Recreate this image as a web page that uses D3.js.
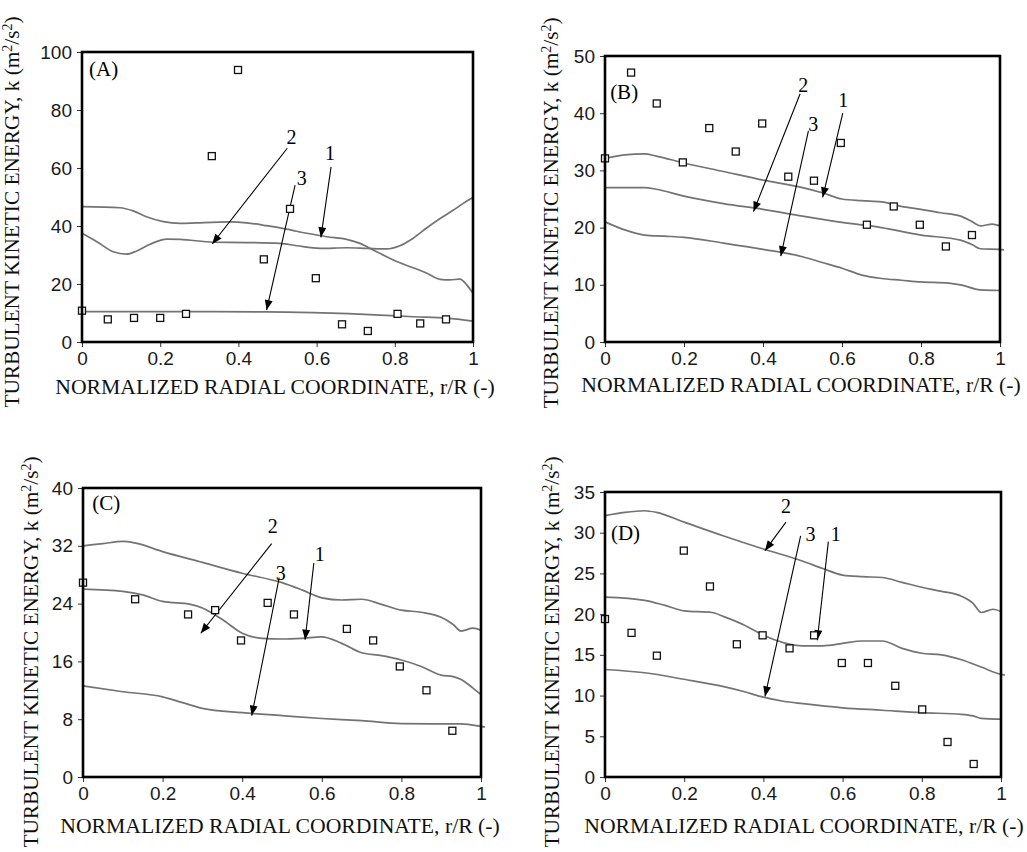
<!DOCTYPE html>
<html>
<head>
<meta charset="utf-8">
<script src="https://cdn.jsdelivr.net/npm/d3@7/dist/d3.min.js"></script>
<style>
  html, body { margin: 0; padding: 0; background: #fff; }
  svg { display: block; }
</style>
</head>
<body>
<svg id="chart" width="1027" height="852"></svg>
<script>
// Radial ticks shared by every panel
const radialTicks = [0, 0.2, 0.4, 0.6, 0.8, 1];

// ---- Panel (A) ----
const kTicksA = [0, 20, 40, 60, 80, 100];
const rA = [0, 0.066, 0.133, 0.2, 0.266, 0.332, 0.399, 0.465, 0.532, 0.598, 0.665, 0.731, 0.807, 0.865, 0.931];
const measA = [10.8, 7.8, 8.3, 8.3, 9.7, 64.1, 93.8, 28.5, 45.9, 22.0, 6.1, 3.8, 9.7, 6.4, 7.8];
const curveA1 = [[0,46.7],[0.097,46.3],[0.131,45.2],[0.165,43.2],[0.208,41.5],[0.251,40.9],[0.293,41.1],[0.379,41.4],[0.421,41.1],[0.472,40.1],[0.523,38.9],[0.575,37.5],[0.626,36.3],[0.677,35.4],[0.711,34.0],[0.745,31.7],[0.779,29.4],[0.813,27.3],[0.847,25.6],[0.882,23.7],[0.916,21.6],[0.941,21.4],[0.967,21.7],[0.984,19.7],[1.0,16.8]];
const curveA2 = [[0,37.5],[0.038,34.6],[0.080,31.1],[0.114,30.3],[0.140,31.4],[0.174,33.7],[0.217,35.5],[0.251,35.4],[0.336,34.4],[0.421,34.3],[0.506,34.0],[0.549,33.2],[0.609,32.3],[0.677,32.5],[0.728,32.3],[0.779,32.1],[0.813,33.2],[0.847,35.8],[0.882,39.4],[0.916,42.6],[0.950,45.5],[0.975,47.8],[1.0,49.8]];
const curveA3 = [[0,10.5],[0.251,10.5],[0.472,10.4],[0.592,10.1],[0.762,9.3],[0.847,8.7],[0.933,8.2],[1.0,7.2]];
// callouts: [text, label r, label k, tail r, tail k, head r, head k]
const arrowsA = [["2",0.536,70.8,0.525,66.8,0.333,33.8],["1",0.634,65.1,0.637,60.4,0.611,36.1],["3",0.562,56.4,0.545,54.1,0.472,11.0]];

// ---- Panel (B) ----
const kTicksB = [0, 10, 20, 30, 40, 50];
const rB = [0, 0.066, 0.131, 0.197, 0.264, 0.331, 0.398, 0.464, 0.529, 0.597, 0.663, 0.731, 0.797, 0.863, 0.929];
const measB = [32.1, 47.1, 41.7, 31.4, 37.4, 33.3, 38.2, 28.9, 28.2, 34.8, 20.5, 23.7, 20.5, 16.7, 18.7];
const curveB1 = [[0,32.1],[0.05,32.7],[0.1,32.9],[0.13,32.5],[0.2,31.3],[0.3,29.8],[0.4,28.3],[0.5,27.0],[0.55,26.1],[0.6,25.0],[0.65,24.7],[0.7,24.5],[0.75,23.7],[0.8,23.2],[0.85,22.6],[0.9,22.0],[0.93,21.0],[0.95,20.3],[0.98,20.6],[1.0,20.3]];
const curveB2 = [[0,27.0],[0.1,27.0],[0.13,26.7],[0.2,25.5],[0.3,24.2],[0.4,23.2],[0.5,22.0],[0.6,20.9],[0.7,20.0],[0.8,18.7],[0.9,17.8],[0.93,17.0],[0.95,16.3],[1.0,16.2],[1.01,16.1]];
const curveB3 = [[0,21.0],[0.05,19.6],[0.1,18.7],[0.15,18.5],[0.2,18.3],[0.3,17.3],[0.4,16.2],[0.5,14.9],[0.55,13.9],[0.6,12.9],[0.65,11.7],[0.7,11.1],[0.75,10.8],[0.8,10.5],[0.87,10.3],[0.9,10.0],[0.95,9.1],[1.0,9.0]];
const arrowsB = [["2",0.502,44.9,0.494,43.4,0.376,22.8],["1",0.603,42.3,0.602,40.0,0.551,25.3],["3",0.527,38.1,0.515,36.9,0.445,15.0]];

// ---- Panel (C) ----
const kTicksC = [0, 8, 16, 24, 32, 40];
const rC = [0, 0.131, 0.264, 0.332, 0.397, 0.464, 0.530, 0.663, 0.729, 0.796, 0.863, 0.928];
const measC = [26.9, 24.6, 22.5, 23.1, 18.9, 24.1, 22.5, 20.5, 18.9, 15.3, 12.0, 6.4];
const curveC1 = [[0,32.0],[0.05,32.3],[0.1,32.6],[0.13,32.4],[0.2,31.2],[0.3,29.7],[0.4,28.2],[0.5,26.9],[0.55,25.9],[0.6,24.8],[0.65,24.5],[0.7,24.6],[0.75,23.9],[0.8,23.1],[0.85,22.8],[0.9,22.1],[0.93,21.1],[0.95,20.2],[0.98,20.6],[1.0,20.3]];
const curveC2 = [[0,26.0],[0.1,25.7],[0.15,25.2],[0.2,24.3],[0.27,23.9],[0.3,23.4],[0.35,21.8],[0.4,19.9],[0.45,19.2],[0.5,19.1],[0.55,19.2],[0.6,19.4],[0.65,18.5],[0.7,17.2],[0.75,16.8],[0.8,16.2],[0.85,15.3],[0.9,14.1],[0.93,13.9],[0.95,13.5],[0.98,12.3],[1.0,11.4]];
const curveC3 = [[0,12.6],[0.1,11.8],[0.2,11.1],[0.25,10.3],[0.3,9.5],[0.4,8.9],[0.5,8.5],[0.6,8.1],[0.7,7.8],[0.8,7.4],[0.9,7.35],[0.95,7.35],[1.0,7.0],[1.01,6.9]];
const arrowsC = [["2",0.477,34.7,0.474,32.3,0.296,19.9],["1",0.595,30.8,0.580,29.6,0.558,19.0],["3",0.497,28.2,0.493,27.6,0.424,8.5]];

// ---- Panel (D) ----
const kTicksD = [0, 5, 10, 15, 20, 25, 30, 35];
const rD = [0, 0.067, 0.131, 0.199, 0.265, 0.333, 0.398, 0.466, 0.528, 0.598, 0.664, 0.733, 0.801, 0.865, 0.931];
const measD = [19.4, 17.7, 14.9, 27.8, 23.4, 16.3, 17.4, 15.8, 17.4, 14.0, 14.0, 11.2, 8.3, 4.3, 1.6];
const curveD1 = [[0,32.1],[0.05,32.5],[0.1,32.7],[0.13,32.5],[0.2,31.3],[0.3,29.6],[0.4,28.0],[0.5,26.5],[0.55,25.6],[0.6,24.8],[0.65,24.6],[0.7,24.5],[0.75,23.9],[0.8,23.3],[0.85,22.8],[0.9,22.2],[0.93,21.3],[0.95,20.2],[0.98,20.6],[1.0,20.3]];
const curveD2 = [[0,22.1],[0.1,21.7],[0.15,21.1],[0.2,20.4],[0.27,20.2],[0.3,19.7],[0.35,18.7],[0.4,17.4],[0.45,16.5],[0.5,16.1],[0.55,16.1],[0.6,16.4],[0.65,16.7],[0.7,16.7],[0.75,15.8],[0.8,15.2],[0.85,15.0],[0.9,14.4],[0.95,13.5],[1.0,12.6],[1.01,12.5]];
const curveD3 = [[0,13.2],[0.1,12.8],[0.2,12.0],[0.3,11.1],[0.35,10.5],[0.4,9.8],[0.45,9.3],[0.5,9.0],[0.6,8.5],[0.7,8.2],[0.8,7.9],[0.9,7.7],[0.93,7.5],[0.95,7.2],[1.0,7.1]];
const arrowsD = [["2",0.457,33.3,0.457,31.3,0.404,27.8],["3",0.519,29.9,0.494,29.6,0.404,9.9],["1",0.583,29.9,0.564,28.9,0.536,16.8]];

// Panel tags and where they sit (r, k of the text baseline start)
const panelTags = ["(A)", "(B)", "(C)", "(D)"];
const tagPos = [[0.018, 91.7], [0.013, 42.5], [0.023, 37.0], [0.015, 29.1]];

const xAxisTitle = "NORMALIZED RADIAL COORDINATE, r/R (-)";

// Page layout for the four plots
const layout = [
  { left: 82,  top: 52,  right: 473,  bottom: 342, yTitleX: 19,  yTitleY: 212, xTitleX: 275, xTitleY: 394 },
  { left: 605, top: 56,  right: 1000, bottom: 342, yTitleX: 558, yTitleY: 213, xTitleX: 801, xTitleY: 392 },
  { left: 83,  top: 488, right: 481,  bottom: 777, yTitleX: 38,  yTitleY: 652, xTitleX: 280, xTitleY: 833 },
  { left: 605, top: 492, right: 1001, bottom: 777, yTitleX: 559, yTitleY: 652, xTitleX: 804, xTitleY: 833 }
];

const panels = [
  { kTicks: kTicksA, r: rA, meas: measA, curves: [curveA1, curveA2, curveA3], arrows: arrowsA },
  { kTicks: kTicksB, r: rB, meas: measB, curves: [curveB1, curveB2, curveB3], arrows: arrowsB },
  { kTicks: kTicksC, r: rC, meas: measC, curves: [curveC1, curveC2, curveC3], arrows: arrowsC },
  { kTicks: kTicksD, r: rD, meas: measD, curves: [curveD1, curveD2, curveD3], arrows: arrowsD }
];

const svg = d3.select("#chart");
const serif = "Liberation Serif";
const sans = "Liberation Sans";

svg.append("defs").append("marker")
  .attr("id", "head")
  .attr("viewBox", "0 0 10 8")
  .attr("refX", 10).attr("refY", 4)
  .attr("markerWidth", 11).attr("markerHeight", 8)
  .attr("markerUnits", "userSpaceOnUse")
  .attr("orient", "auto")
  .append("path").attr("d", "M0,0 L10,4 L0,8 Z").attr("fill", "#000");

panels.forEach((p, i) => {
  const L = layout[i];
  const x = d3.scaleLinear().domain([0, 1]).range([L.left, L.right]);
  const y = d3.scaleLinear().domain([0, d3.max(p.kTicks)]).range([L.bottom, L.top]);
  const g = svg.append("g");

  // axes
  const xAxis = d3.axisBottom(x).tickValues(radialTicks).tickSize(5).tickPadding(5)
    .tickFormat(d => String(+d.toFixed(1)));
  const yAxis = d3.axisLeft(y).tickValues(p.kTicks).tickSize(5).tickPadding(5);
  const gx = g.append("g").attr("transform", `translate(0,${L.bottom})`).call(xAxis);
  const gy = g.append("g").attr("transform", `translate(${L.left},0)`).call(yAxis);
  [gx, gy].forEach(a => {
    a.select(".domain").remove();
    a.selectAll(".tick line").attr("stroke", "#333").attr("stroke-width", 1);
    a.selectAll(".tick text").style("font-family", sans).style("font-size", "19px").attr("fill", "#1a1a1a");
  });

  // model curves
  const line = d3.line().x(d => x(d[0])).y(d => y(d[1])).curve(d3.curveMonotoneX);
  g.selectAll("path.model").data(p.curves).join("path")
    .attr("class", "model")
    .attr("d", line)
    .attr("fill", "none")
    .attr("stroke", "#737373")
    .attr("stroke-width", 1.7);

  // callout arrows
  p.arrows.forEach(a => {
    g.append("line")
      .attr("x1", x(a[3])).attr("y1", y(a[4]))
      .attr("x2", x(a[5])).attr("y2", y(a[6]))
      .attr("stroke", "#000").attr("stroke-width", 1.1)
      .attr("marker-end", "url(#head)");
    g.append("text")
      .attr("x", x(a[1])).attr("y", y(a[2]))
      .attr("text-anchor", "middle").attr("dy", "0.35em")
      .style("font-family", serif).style("font-size", "20px")
      .text(a[0]);
  });

  // measurements
  const s = 7;
  g.selectAll("rect.meas").data(p.r.map((r, j) => [r, p.meas[j]])).join("rect")
    .attr("class", "meas")
    .attr("x", d => x(d[0]) - s / 2).attr("y", d => y(d[1]) - s / 2)
    .attr("width", s).attr("height", s)
    .attr("fill", "#fff").attr("stroke", "#111").attr("stroke-width", 1.3);

  // plot frame
  g.append("rect")
    .attr("x", L.left).attr("y", L.top)
    .attr("width", L.right - L.left).attr("height", L.bottom - L.top)
    .attr("fill", "none").attr("stroke", "#000").attr("stroke-width", 2.6);

  // panel tag
  g.append("text")
    .attr("x", x(tagPos[i][0])).attr("y", y(tagPos[i][1]))
    .style("font-family", serif).style("font-size", "21px")
    .text(panelTags[i]);

  // axis titles
  g.append("text")
    .attr("x", L.xTitleX).attr("y", L.xTitleY)
    .attr("text-anchor", "middle")
    .style("font-family", serif).style("font-size", "21.7px").attr("fill", "#111")
    .text(xAxisTitle);

  const yt = g.append("text")
    .attr("transform", `translate(${L.yTitleX},${L.yTitleY}) rotate(-90)`)
    .attr("text-anchor", "middle")
    .style("font-family", serif).style("font-size", "21.3px").attr("fill", "#111");
  yt.append("tspan").text("TURBULENT KINETIC ENERGY, k (m");
  yt.append("tspan").attr("baseline-shift", "super").style("font-size", "14px").text("2");
  yt.append("tspan").text("/s");
  yt.append("tspan").attr("baseline-shift", "super").style("font-size", "14px").text("2");
  yt.append("tspan").text(")");
});
</script>
</body>
</html>
